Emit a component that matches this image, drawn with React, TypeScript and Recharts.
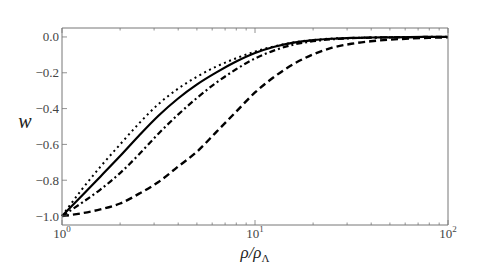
import { LineChart, Line, XAxis, YAxis } from 'recharts';

// density ratio rho / rho_Lambda, sampled every 0.1 decade
const rho = [1, 1.26, 1.58, 2.0, 2.51, 3.16, 3.98, 5.01, 6.31, 7.94, 10, 12.6, 15.8, 20, 25.1, 31.6, 39.8, 50.1, 63.1, 79.4, 100];

// equation of state w for the four models
const wDotted = [-1.0, -0.855, -0.725, -0.6, -0.482, -0.375, -0.29, -0.222, -0.165, -0.12, -0.082, -0.052, -0.031, -0.017, -0.009, -0.005, -0.003, -0.002, -0.001, 0, 0];
const wSolid = [-1.0, -0.89, -0.78, -0.665, -0.55, -0.44, -0.345, -0.265, -0.198, -0.139, -0.09, -0.055, -0.032, -0.018, -0.01, -0.005, -0.003, -0.002, -0.001, 0, 0];
const wDashDot = [-1.0, -0.928, -0.852, -0.76, -0.655, -0.54, -0.435, -0.34, -0.255, -0.182, -0.12, -0.075, -0.043, -0.024, -0.013, -0.007, -0.004, -0.002, -0.001, 0, 0];
const wDashed = [-1.0, -0.985, -0.963, -0.93, -0.875, -0.81, -0.725, -0.64, -0.53, -0.42, -0.31, -0.222, -0.152, -0.097, -0.06, -0.038, -0.024, -0.015, -0.009, -0.005, -0.002];

const xMajor = [1, 10, 100];
const xMinor = [2, 3, 4, 5, 6, 7, 8, 9, 20, 30, 40, 50, 60, 70, 80, 90];
const yTicks = [-1.0, -0.8, -0.6, -0.4, -0.2, 0.0];

const data = rho.map((r, i) => ({
  r,
  dotted: wDotted[i],
  solid: wSolid[i],
  dashdot: wDashDot[i],
  dashed: wDashed[i],
}));

const AXIS = '#777';
const TEXT = '#444';
const SERIF = 'Liberation Serif';

const fmtY = (v: number) => (v < 0 ? '\u2212' + Math.abs(v).toFixed(1) : v.toFixed(1));

function BottomTick({ x, y, payload }: any) {
  const v = payload.value;
  const major = xMajor.includes(v);
  return (
    <g>
      <line x1={x} x2={x} y1={y} y2={y - (major ? 5 : 2.5)} stroke={AXIS} strokeWidth={0.8} />
      {major && (
        <text x={x} y={y + 13} textAnchor="middle" fill={TEXT} fontFamily={SERIF} fontSize={13}>
          10
          <tspan dy={-6} fontSize={9}>{Math.round(Math.log10(v))}</tspan>
        </text>
      )}
    </g>
  );
}

function TopTick({ x, y, payload }: any) {
  const major = xMajor.includes(payload.value);
  return <line x1={x} x2={x} y1={y} y2={y + (major ? 5 : 2.5)} stroke={AXIS} strokeWidth={0.8} />;
}

function LeftTick({ x, y, payload }: any) {
  return (
    <g>
      <line x1={x} x2={x + 5} y1={y} y2={y} stroke={AXIS} strokeWidth={0.8} />
      <text x={x - 3} y={y + 4.5} textAnchor="end" fill={TEXT} fontFamily={SERIF} fontSize={13}>
        {fmtY(payload.value)}
      </text>
    </g>
  );
}

function RightTick({ x, y }: any) {
  return <line x1={x} x2={x - 5} y1={y} y2={y} stroke={AXIS} strokeWidth={0.8} />;
}

export default function App() {
  return (
    <div style={{ position: 'absolute', left: 0, top: 0, width: 490, height: 268, background: '#fff', fontFamily: SERIF }}>
      <LineChart width={490} height={268} data={data} margin={{ top: 27, right: 41, left: 0, bottom: 0 }}>
        <XAxis
          xAxisId="bottom"
          dataKey="r"
          type="number"
          scale="log"
          domain={[1, 100]}
          ticks={[...xMajor, ...xMinor]}
          interval={0}
          height={43}
          tickSize={0}
          tickMargin={0}
          tickLine={false}
          tick={<BottomTick />}
          axisLine={{ stroke: AXIS, strokeWidth: 1 }}
        />
        <XAxis
          xAxisId="top"
          orientation="top"
          dataKey="r"
          type="number"
          scale="log"
          domain={[1, 100]}
          ticks={[...xMajor, ...xMinor]}
          interval={0}
          height={1}
          tickSize={0}
          tickMargin={0}
          tickLine={false}
          tick={<TopTick />}
          axisLine={{ stroke: AXIS, strokeWidth: 1 }}
        />
        <YAxis
          yAxisId="left"
          type="number"
          domain={[-1.05, 0.05]}
          ticks={yTicks}
          interval={0}
          width={62}
          tickSize={0}
          tickMargin={0}
          tickLine={false}
          tick={<LeftTick />}
          axisLine={{ stroke: AXIS, strokeWidth: 1 }}
        />
        <YAxis
          yAxisId="right"
          orientation="right"
          type="number"
          domain={[-1.05, 0.05]}
          ticks={yTicks}
          interval={0}
          width={1}
          tickSize={0}
          tickMargin={0}
          tickLine={false}
          tick={<RightTick />}
          axisLine={{ stroke: AXIS, strokeWidth: 1 }}
        />
        <Line xAxisId="bottom" yAxisId="left" type="monotone" dataKey="dotted" stroke="#000" strokeWidth={2} strokeDasharray="2 3.5" dot={false} isAnimationActive={false} />
        <Line xAxisId="bottom" yAxisId="left" type="monotone" dataKey="solid" stroke="#000" strokeWidth={2.2} dot={false} isAnimationActive={false} />
        <Line xAxisId="bottom" yAxisId="left" type="monotone" dataKey="dashdot" stroke="#000" strokeWidth={2.2} strokeDasharray="6 3 2 3" dot={false} isAnimationActive={false} />
        <Line xAxisId="bottom" yAxisId="left" type="monotone" dataKey="dashed" stroke="#000" strokeWidth={2.4} strokeDasharray="7 4" dot={false} isAnimationActive={false} />
      </LineChart>
      <svg width={490} height={268} style={{ position: 'absolute', left: 0, top: 0, pointerEvents: 'none' }}>
        <text x={25} y={128} textAnchor="middle" fill="#222" fontFamily={SERIF} fontStyle="italic" fontSize={20}>
          w
        </text>
        <text x={255} y={258} textAnchor="middle" fill="#222" fontFamily={SERIF} fontStyle="italic" fontSize={17}>
          ρ/ρ<tspan dy={4} fontSize={11} fontStyle="normal">Λ</tspan>
        </text>
      </svg>
    </div>
  );
}
